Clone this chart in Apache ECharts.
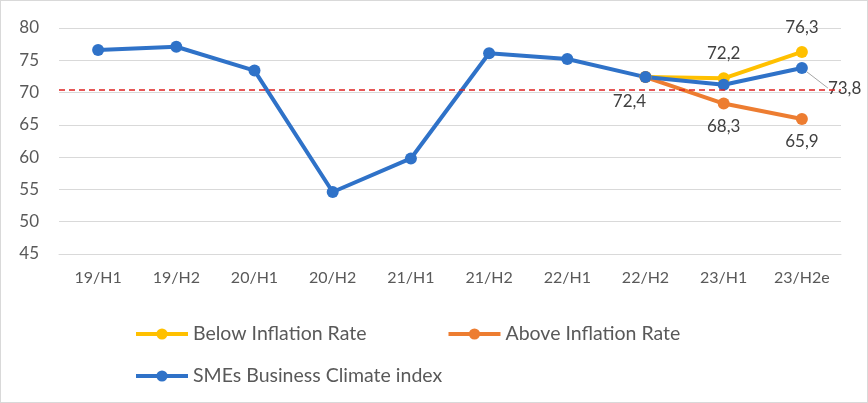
<!DOCTYPE html>
<html><head><meta charset="utf-8">
<script src="https://cdn.jsdelivr.net/npm/echarts@6/dist/echarts.min.js"></script>
<style>html,body{margin:0;padding:0;background:#fff;}#c{width:866px;height:401px;border:1px solid #d9d9d9;}</style>
</head><body><div id="c"></div>
<script>
const categories = ['19/H1','19/H2','20/H1','20/H2','21/H1','21/H2','22/H1','22/H2','23/H1','23/H2e'];
const smeIndex = [76.6, 77.1, 73.4, 54.6, 59.8, 76.1, 75.2, 72.4, 71.2, 73.8];
const belowInflation = [null, null, null, null, null, null, null, 72.4, 72.2, 76.3];
const aboveInflation = [null, null, null, null, null, null, null, 72.4, 68.3, 65.9];
const inflationLine = 70.5;
const yTicks = {min: 45, max: 80, interval: 5};

const FONT = 'Lato';
const fmt = v => String(v).replace('.', ',');
const labelStyle = {color: '#404040', fontSize: 17, fontFamily: FONT};
const legendText = {color: '#595959', fontSize: 19.5, fontFamily: FONT};

const smeData = smeIndex.map((v, i) => i === categories.length - 1
  ? {value: v, label: {show: true, position: 'right', distance: 10, formatter: p => fmt(p.value), ...labelStyle},
     labelLine: {show: true, lineStyle: {color: '#a6a6a6', width: 1}}}
  : v);
const aboveData = aboveInflation.map((v, i) => i === 7 ? {value: v, label: {offset: [-16, 2]}} : v);

const chart = echarts.init(document.getElementById('c'));
chart.setOption({
  animation: false,
  textStyle: {fontFamily: FONT},
  grid: {left: 58, right: 26, top: 27, bottom: 148},
  legend: [
    {data: ['Below Inflation Rate', 'Above Inflation Rate'], left: 128, top: 318, itemGap: 80, itemWidth: 52, itemHeight: 14,
     lineStyle: {width: 4}, textStyle: legendText},
    {data: ['SMEs Business Climate index'], left: 128, top: 360, itemWidth: 52, itemHeight: 14,
     lineStyle: {width: 4}, textStyle: legendText}
  ],
  xAxis: {type: 'category', data: categories, boundaryGap: true,
    axisLine: {lineStyle: {color: '#d9d9d9'}}, axisTick: {show: false},
    axisLabel: {color: '#595959', fontSize: 16, margin: 16, fontFamily: FONT}},
  yAxis: {type: 'value', min: yTicks.min, max: yTicks.max, interval: yTicks.interval,
    axisLine: {show: false}, axisTick: {show: false},
    axisLabel: {color: '#595959', fontSize: 17, margin: 20, fontFamily: FONT},
    splitLine: {lineStyle: {color: '#d9d9d9'}}},
  series: [
    {name: 'Below Inflation Rate', type: 'line', data: belowInflation, color: '#ffc000',
     lineStyle: {width: 4}, symbol: 'circle', symbolSize: 12,
     label: {show: true, position: 'top', distance: 10, formatter: p => p.dataIndex === 7 ? '' : fmt(p.value), ...labelStyle}},
    {name: 'Above Inflation Rate', type: 'line', data: aboveData, color: '#ed7d31',
     lineStyle: {width: 4}, symbol: 'circle', symbolSize: 12,
     label: {show: true, position: 'bottom', distance: 8, formatter: p => fmt(p.value), ...labelStyle},
     markLine: {silent: true, symbol: 'none', label: {show: false},
       lineStyle: {color: '#e02020', type: [6, 4], width: 1.5},
       data: [{yAxis: inflationLine}]}},
    {name: 'SMEs Business Climate index', type: 'line', data: smeData, color: '#2f72c8',
     lineStyle: {width: 4}, symbol: 'circle', symbolSize: 12,
     label: {show: false},
     labelLayout: p => p.dataIndex === 9 ? {dx: 10, dy: 20} : {}}
  ]
});
</script></body></html>
